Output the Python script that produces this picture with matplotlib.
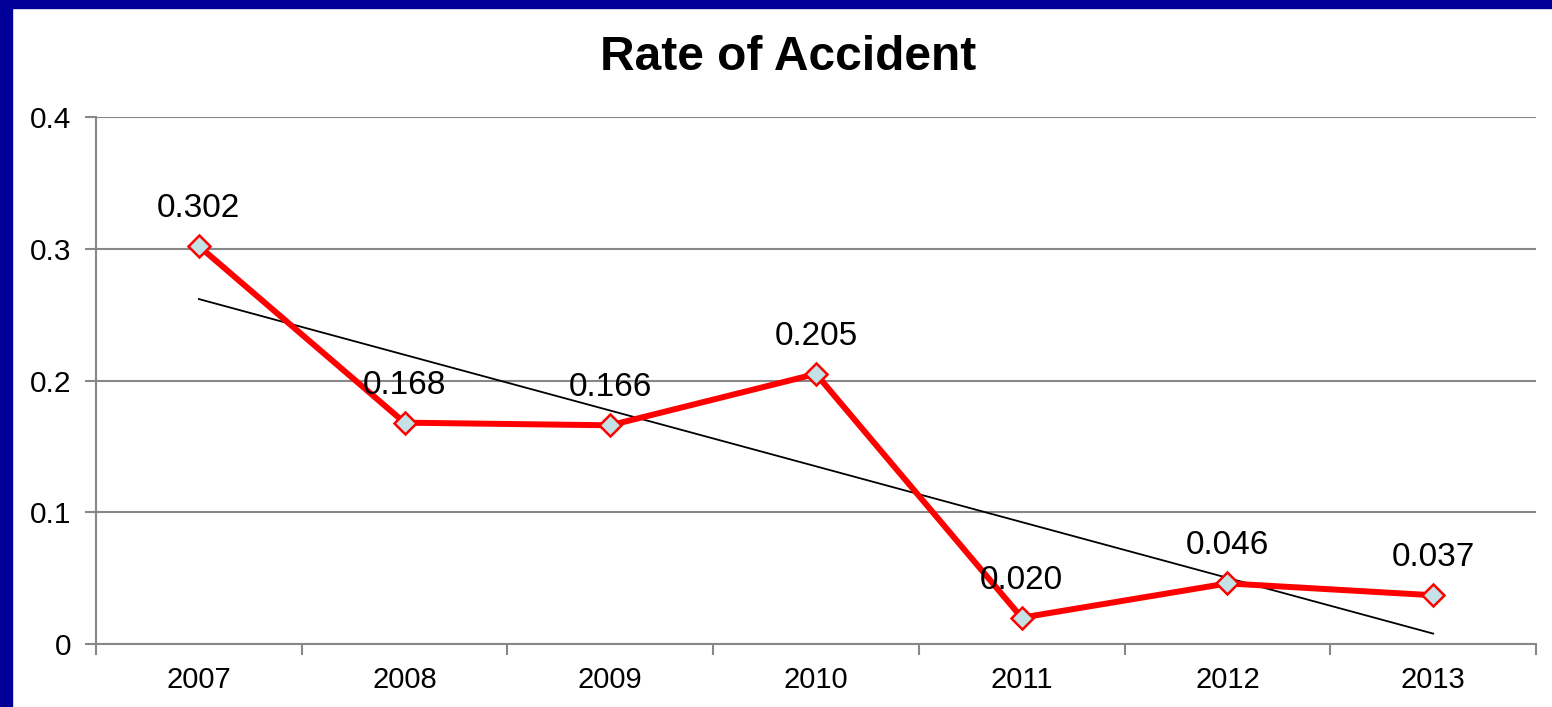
import matplotlib
matplotlib.use("Agg")
import matplotlib.pyplot as plt
import numpy as np
from matplotlib.patches import Rectangle

years = ["2007", "2008", "2009", "2010", "2011", "2012", "2013"]
rates = [0.302, 0.168, 0.166, 0.205, 0.020, 0.046, 0.037]
labels = ["0.302", "0.168", "0.166", "0.205", "0.020", "0.046", "0.037"]
yticks = [0, 0.1, 0.2, 0.3, 0.4]
ytick_labels = ["0", "0.1", "0.2", "0.3", "0.4"]

plt.rcParams['font.family'] = ['Liberation Sans', 'DejaVu Sans']

W, H = 1552, 707
fig = plt.figure(figsize=(W / 100, H / 100), dpi=100)
fig.patch.set_facecolor("white")

# navy frame
fig.patches.append(Rectangle((0, 0), 12 / W, 1, transform=fig.transFigure, color="#000099", zorder=0))
fig.patches.append(Rectangle((0, 1 - 8 / H), 1, 8 / H, transform=fig.transFigure, color="#000099", zorder=0))

ax = fig.add_axes([96 / W, 63 / H, (1536 - 96) / W, (644 - 117) / H])
x = np.arange(len(years))

ax.set_xlim(-0.5, len(years) - 0.5)
ax.set_ylim(0, 0.4)
ax.set_yticks(yticks)
ax.set_yticklabels(ytick_labels, fontsize=21.5)
ax.set_xticks(x)
ax.set_xticklabels(years, fontsize=21)
ax.set_xticks(np.arange(-0.5, len(years)), minor=True)
ax.tick_params(axis='x', which='major', length=0, pad=16)
ax.tick_params(axis='x', which='minor', length=8, width=1.5, color="#888888")
ax.tick_params(axis='y', length=8, width=1.5, color="#888888", pad=10)

ax.grid(axis='y', color="#888888", linewidth=1.5)
ax.set_axisbelow(True)
for s in ["top", "right"]:
    ax.spines[s].set_visible(False)
for s in ["left", "bottom"]:
    ax.spines[s].set_color("#888888")
    ax.spines[s].set_linewidth(1.5)

# trend line (linear fit)
coef = np.polyfit(x, rates, 1)
ax.plot(x, np.polyval(coef, x), color="black", linewidth=1.3, zorder=2)

ax.plot(x, rates, color="#ff0000", linewidth=4.3, marker="D", markersize=11,
        markerfacecolor="#c4e2e6", markeredgecolor="#ff0000", markeredgewidth=1.8, zorder=3)

for xi, yi, lab in zip(x, rates, labels):
    ax.annotate(lab, (xi, yi), xytext=(0, 27), textcoords="offset points",
                ha="center", va="center", fontsize=24, zorder=4)

fig.text(788 / W, 1 - 57 / H, "Rate of Accident", ha="center", va="center",
         fontsize=34.5, fontweight="bold")

fig.savefig("out.png", dpi=100)
